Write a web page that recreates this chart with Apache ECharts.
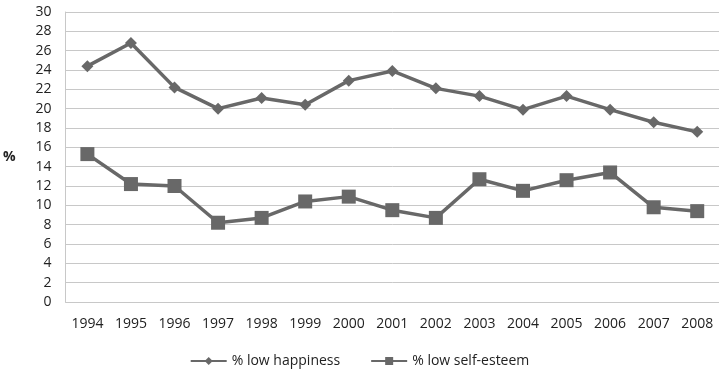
<!DOCTYPE html>
<html><head><meta charset="utf-8">
<script src="https://cdn.jsdelivr.net/npm/echarts@6/dist/echarts.min.js"></script>
<style>html,body{margin:0;padding:0;background:#fff}#c{width:719px;height:377px}</style>
</head><body><div id="c"></div>
<script>
const years = ['1994','1995','1996','1997','1998','1999','2000','2001','2002','2003','2004','2005','2006','2007','2008'];
const lowHappiness = [24.4, 26.8, 22.2, 20.0, 21.1, 20.4, 22.9, 23.9, 22.1, 21.3, 19.9, 21.3, 19.9, 18.6, 17.6];
const lowSelfEsteem = [15.3, 12.2, 12.0, 8.2, 8.7, 10.4, 10.9, 9.5, 8.7, 12.7, 11.5, 12.6, 13.4, 9.8, 9.4];
const seriesNames = ['% low happiness', '% low self-esteem'];

const FONT = 'Open Sans';
const chart = echarts.init(document.getElementById('c'), null, {renderer: 'canvas'});
chart.setOption({
  animation: false,
  backgroundColor: '#fff',
  grid: {left: 63, right: 0, top: 12, bottom: 75, containLabel: false},
  xAxis: {
    type: 'category', data: years, boundaryGap: true,
    axisLine: {show: true, lineStyle: {color: '#c8c8c8', width: 1}},
    axisTick: {show: false},
    axisLabel: {color: '#222', fontSize: 14, fontFamily: FONT, margin: 15}
  },
  yAxis: {
    type: 'value', min: 0, max: 30, interval: 2,
    name: '%', nameLocation: 'middle', nameRotate: 0, nameGap: 50,
    nameTextStyle: {color: '#222', fontSize: 14, fontWeight: 'bold', fontFamily: FONT},
    axisLine: {show: true, lineStyle: {color: '#c8c8c8', width: 1}},
    axisTick: {show: false},
    axisLabel: {color: '#222', fontSize: 14, fontFamily: FONT, margin: 14},
    splitLine: {show: true, lineStyle: {color: '#c8c8c8', width: 1}}
  },
  legend: {
    bottom: 4, left: 'center', itemGap: 30, itemWidth: 36, itemHeight: 10,
    textStyle: {color: '#222', fontSize: 14, fontFamily: FONT},
    data: seriesNames
  },
  series: [
    {name: seriesNames[0], type: 'line', data: lowHappiness, symbol: 'diamond', symbolSize: 12,
     lineStyle: {color: '#686868', width: 3.5}, itemStyle: {color: '#686868'}},
    {name: seriesNames[1], type: 'line', data: lowSelfEsteem, symbol: 'rect', symbolSize: 14,
     lineStyle: {color: '#686868', width: 3.5}, itemStyle: {color: '#686868'}}
  ]
});
</script></body></html>
